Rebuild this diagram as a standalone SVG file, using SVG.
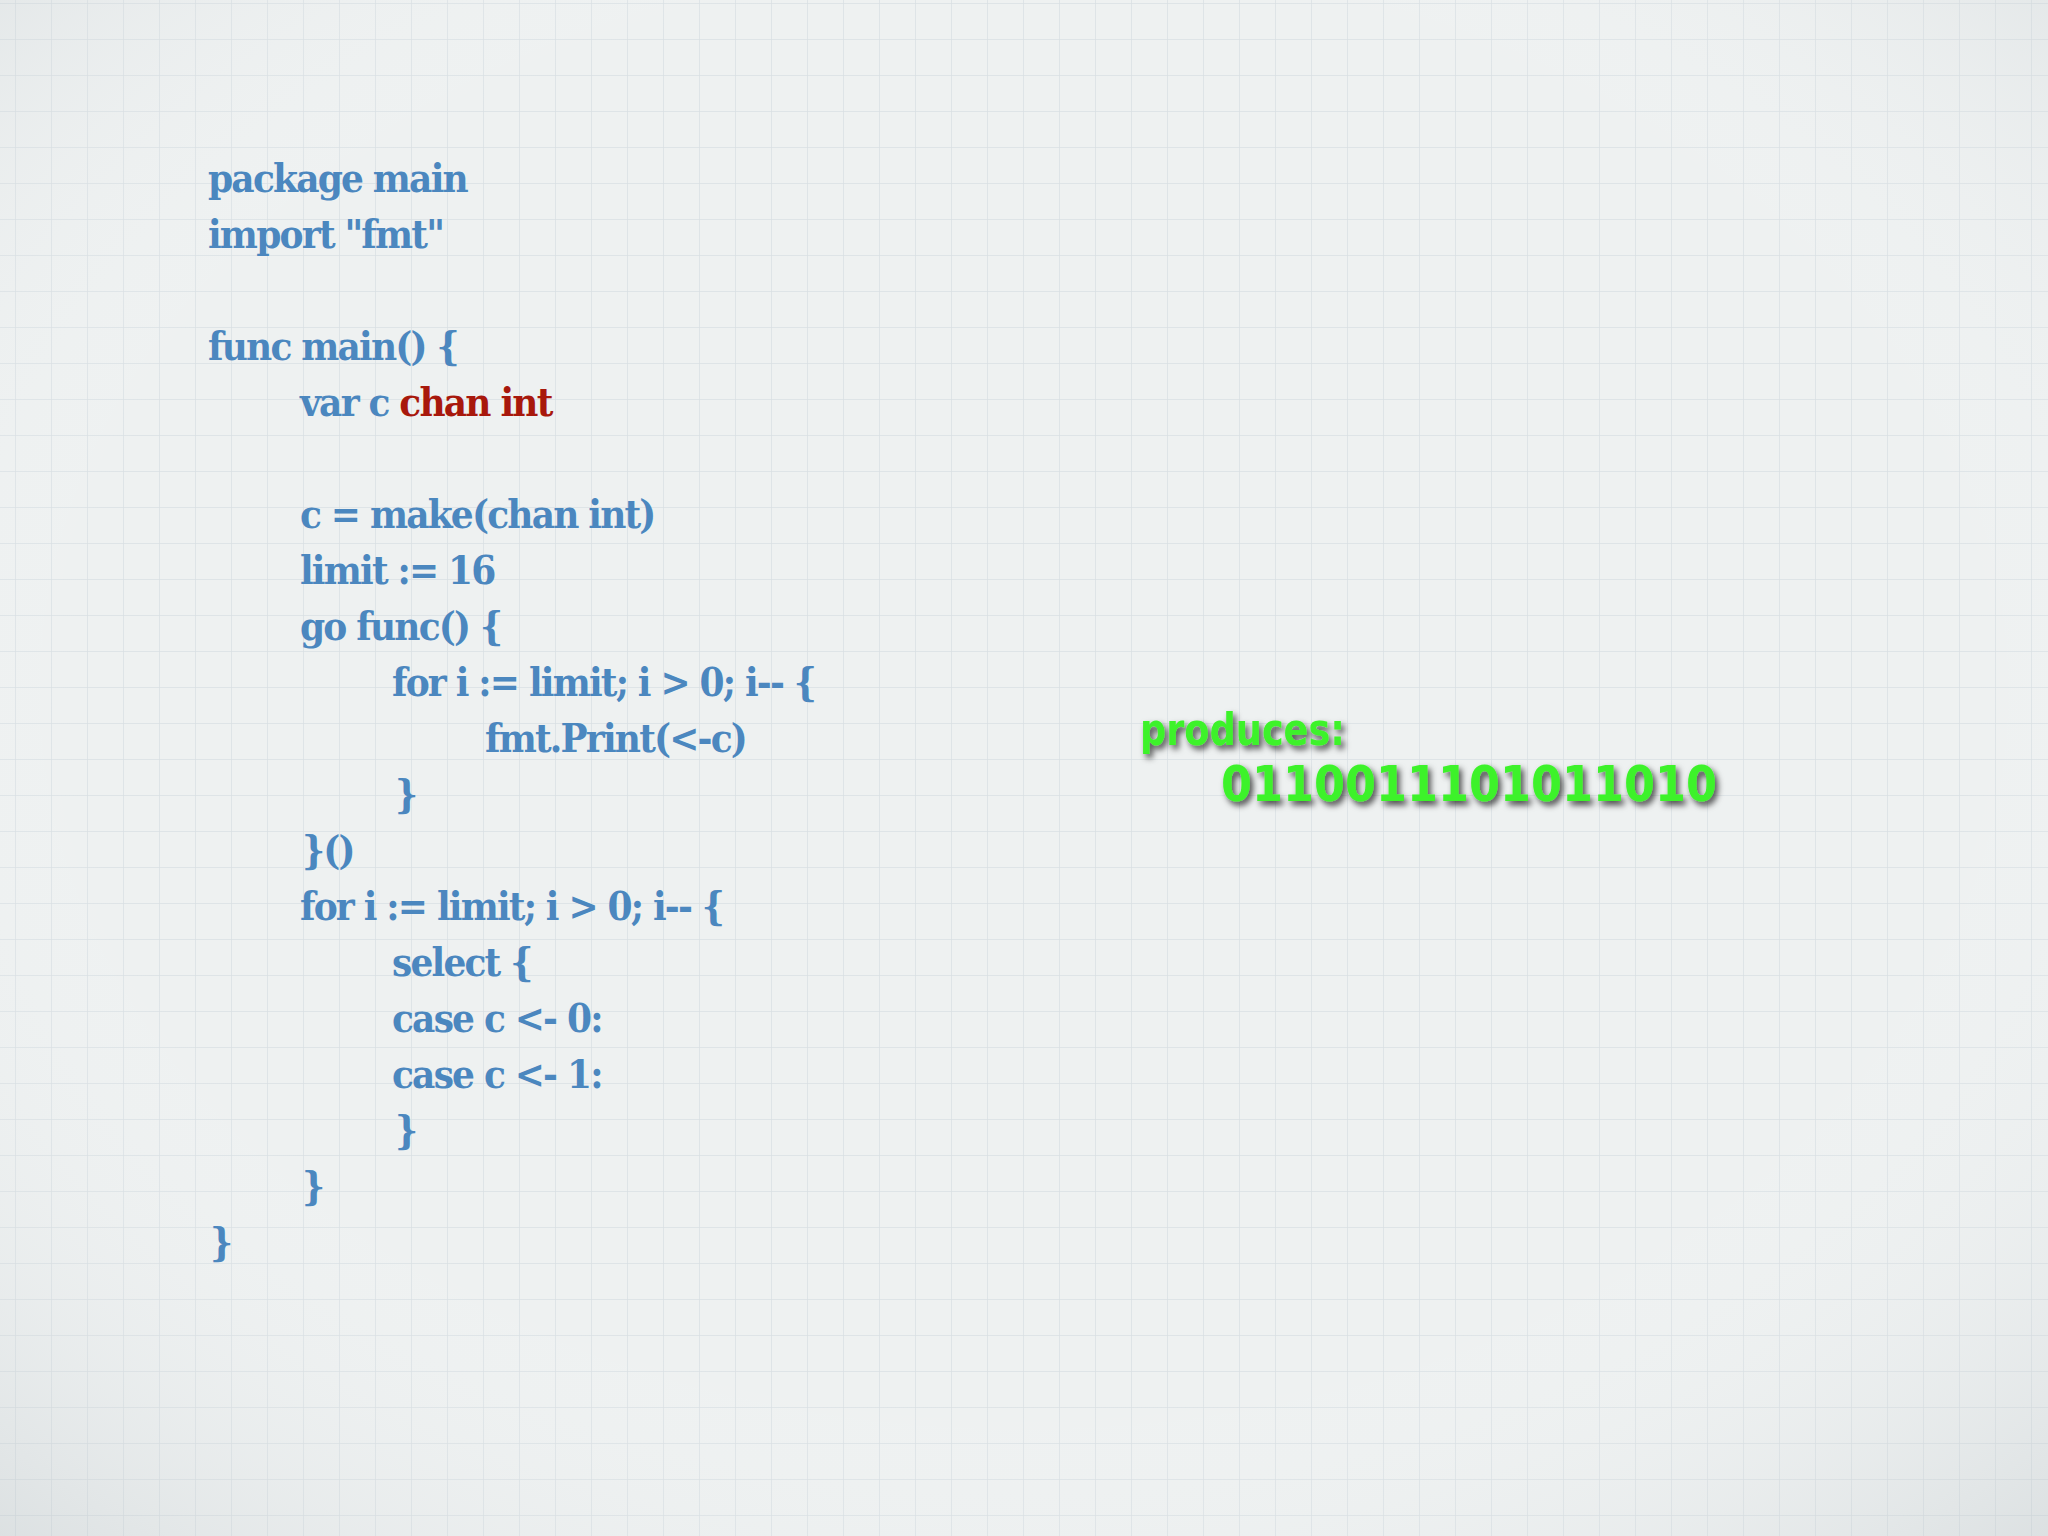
<svg xmlns="http://www.w3.org/2000/svg" width="2048" height="1536" viewBox="0 0 2048 1536">
<defs>
<pattern id="grid" width="36" height="36" patternUnits="userSpaceOnUse" x="16" y="4">
<path d="M36 0V36M0 36H36" fill="none" stroke="#d9dfe3" stroke-width="1.5"/>
</pattern>
<filter id="sh" x="-10%" y="-30%" width="130%" height="180%">
<feDropShadow dx="3" dy="4" stdDeviation="3" flood-color="#000" flood-opacity="0.7"/>
</filter>
<radialGradient id="vig" cx="50%" cy="45%" r="75%">
<stop offset="0.6" stop-color="#fff" stop-opacity="0"/>
<stop offset="1" stop-color="#b8c0c4" stop-opacity="0.35"/>
</radialGradient>
</defs>
<style>
.c{font-family:"DejaVu Serif Condensed","DejaVu Serif",serif;font-weight:bold;font-size:40px;letter-spacing:-1.8px;fill:#4b87bf}
.r{fill:#a8180c}
.g{font-family:"DejaVu Sans Condensed","DejaVu Sans",sans-serif;font-weight:bold;fill:#3df22a;filter:url(#sh)}
</style>
<rect width="2048" height="1536" fill="#eef1f1"/>
<rect width="2048" height="1536" fill="url(#grid)"/>
<rect width="2048" height="1536" fill="url(#vig)"/>
<g id="code" class="c">
<text class="c" x="208" y="192">package main</text>
<text class="c" x="208" y="248">import "fmt"</text>
<text class="c" x="208" y="360">func main() {</text>
<text class="c" x="300" y="416">var c <tspan class="r">chan int</tspan></text>
<text class="c" x="300" y="528">c = make(chan int)</text>
<text class="c" x="300" y="584">limit := 16</text>
<text class="c" x="300" y="640">go func() {</text>
<text class="c" x="392" y="696">for i := limit; i &gt; 0; i-- {</text>
<text class="c" x="485" y="752">fmt.Print(&lt;-c)</text>
<text class="c" x="395" y="808">}</text>
<text class="c" x="302" y="864">}()</text>
<text class="c" x="300" y="920">for i := limit; i &gt; 0; i-- {</text>
<text class="c" x="392" y="976">select {</text>
<text class="c" x="392" y="1032">case c &lt;- 0:</text>
<text class="c" x="392" y="1088">case c &lt;- 1:</text>
<text class="c" x="395" y="1144">}</text>
<text class="c" x="302" y="1200">}</text>
<text class="c" x="210" y="1256">}</text>
</g>
<g id="output">
<text class="g" x="1140" y="745" font-size="44" textLength="205" lengthAdjust="spacingAndGlyphs">produces:</text>
<text class="g" x="1221" y="801" font-size="50" textLength="496" lengthAdjust="spacingAndGlyphs">0110011101011010</text>
</g>
</svg>
